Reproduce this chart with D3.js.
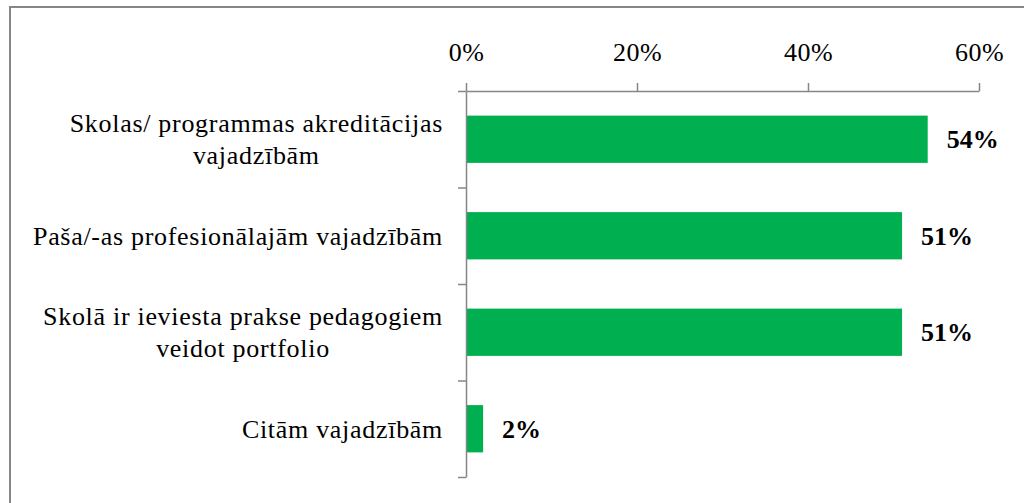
<!DOCTYPE html>
<html>
<head>
<meta charset="utf-8">
<script src="https://cdn.jsdelivr.net/npm/d3@7"></script>
<style>
  body { margin: 0; background: #fff; }
  svg text { font-family: "Liberation Serif", "Times New Roman", Times, serif; fill: #000; }
</style>
</head>
<body>
<div id="chart"></div>
<script>
// data
var categories = [
    ["Skolas/ programmas akreditācijas", "vajadzībām"],
    ["Paša/-as profesionālajām vajadzībām"],
    ["Skolā ir ieviesta prakse pedagogiem", "veidot portfolio"],
    ["Citām vajadzībām"]
];
var values = [54, 51, 51, 2];
var tickValues = [0, 20, 40, 60];

var width = 1024, height = 503;
var plot = { left: 466, right: 979, top: 91, bottom: 477 };
var axisColor = "#868686";
var barColor = "#00b050";

var svg = d3.select("#chart")
    .append("svg")
    .attr("width", width)
    .attr("height", height);

// chart border (runs off the right and bottom edges)
svg.append("rect")
    .attr("x", 10)
    .attr("y", 7)
    .attr("width", width + 20)
    .attr("height", height + 20)
    .attr("fill", "none")
    .attr("stroke", axisColor)
    .attr("stroke-width", 2);

var xScale = d3.scaleLinear()
    .domain([0, 60])
    .range([plot.left, plot.right]);

var yBand = d3.scaleBand()
    .domain(d3.range(categories.length))
    .range([plot.top, plot.bottom])
    .paddingInner(0.51)
    .paddingOuter(0.255);

var yEdge = d3.scaleLinear()
    .domain([0, categories.length])
    .range([plot.top, plot.bottom]);

// bars
svg.append("g").selectAll("rect")
    .data(values)
    .enter().append("rect")
    .attr("x", xScale(0))
    .attr("y", function(d, i) { return yBand(i); })
    .attr("width", function(d) { return xScale(d) - xScale(0); })
    .attr("height", yBand.bandwidth())
    .attr("fill", barColor);

// top axis
var xAxis = d3.axisTop(xScale)
    .tickValues(tickValues)
    .tickSize(8)
    .tickSizeOuter(0)
    .tickPadding(22)
    .tickFormat(function(d) { return d + "%"; });

var gx = svg.append("g")
    .attr("transform", "translate(0," + plot.top + ")")
    .call(xAxis);
gx.selectAll("path, line").attr("stroke", axisColor).attr("stroke-width", 1.5);
gx.selectAll("text")
    .attr("font-family", "Liberation Serif")
    .attr("font-size", 26)
    .attr("letter-spacing", 0.5)
    .attr("fill", "#000");

// left axis with ticks between categories
var yAxis = d3.axisLeft(yEdge)
    .tickValues(d3.range(categories.length + 1))
    .tickSize(8)
    .tickSizeOuter(0)
    .tickFormat("");

var gy = svg.append("g")
    .attr("transform", "translate(" + plot.left + ",0)")
    .call(yAxis);
gy.selectAll("path, line").attr("stroke", axisColor).attr("stroke-width", 1.5);

// category labels: block right-aligned, lines centered within it
var labelRight = 443;
var lineGap = 32;
categories.forEach(function(lines, i) {
    var cy = yBand(i) + yBand.bandwidth() / 2;
    var g = svg.append("g");
    var texts = g.selectAll("text")
        .data(lines)
        .enter().append("text")
        .attr("font-size", 26)
        .attr("letter-spacing", 0.7)
        .attr("text-anchor", "middle")
        .attr("y", function(d, j) { return cy + 9 + (j - (lines.length - 1) / 2) * lineGap; })
        .text(function(d) { return d; });
    var maxW = 0;
    texts.each(function() { maxW = Math.max(maxW, this.getComputedTextLength()); });
    texts.attr("x", labelRight - maxW / 2);
});

// value labels
svg.append("g").selectAll("text")
    .data(values)
    .enter().append("text")
    .attr("x", function(d) { return xScale(d) + 19; })
    .attr("y", function(d, i) { return yBand(i) + yBand.bandwidth() / 2 + 9; })
    .attr("font-size", 26)
    .attr("font-weight", "bold")
    .text(function(d) { return d + "%"; });
</script>
</body>
</html>
